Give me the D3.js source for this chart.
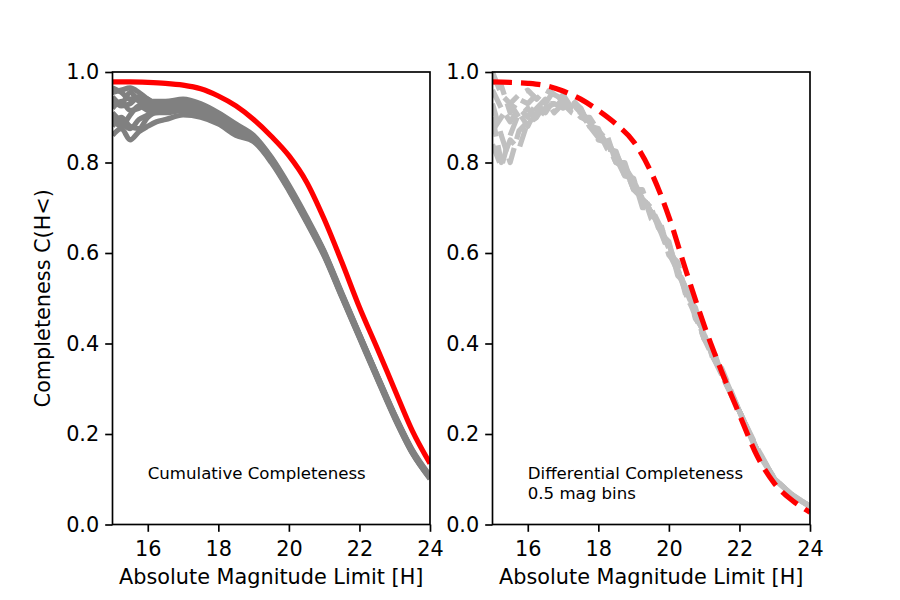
<!DOCTYPE html>
<html>
<head>
<meta charset="utf-8">
<script src="https://cdn.jsdelivr.net/npm/d3@7"></script>
<style>
  body { margin: 0; background: #fff; }
  svg { display: block; }
  text { font-family: "DejaVu Sans", sans-serif; }
</style>
</head>
<body>
<div id="chart"></div>
<script>
// ---- data ----
// left panel: cumulative completeness
const hCum = [15, 15.25, 15.5, 15.75, 16, 16.25, 16.5, 17, 17.5, 18, 18.5, 19, 19.5, 20, 20.5, 21, 21.5, 22, 22.5, 23, 23.5, 24];
const cumRun1 = [0.965, 0.955, 0.94, 0.945, 0.935, 0.935, 0.935, 0.94, 0.93, 0.91, 0.885, 0.86, 0.812, 0.75, 0.68, 0.604, 0.512, 0.421, 0.331, 0.243, 0.165, 0.108];
const cumRun2 = [0.955, 0.96, 0.965, 0.955, 0.94, 0.93, 0.93, 0.935, 0.925, 0.905, 0.88, 0.857, 0.81, 0.747, 0.677, 0.602, 0.51, 0.42, 0.33, 0.241, 0.163, 0.106];
const cumRun3 = [0.94, 0.925, 0.93, 0.945, 0.94, 0.925, 0.92, 0.93, 0.92, 0.9, 0.875, 0.855, 0.808, 0.745, 0.675, 0.6, 0.508, 0.418, 0.328, 0.24, 0.162, 0.105];
const cumRun4 = [0.92, 0.935, 0.915, 0.92, 0.93, 0.93, 0.925, 0.92, 0.915, 0.895, 0.87, 0.852, 0.806, 0.743, 0.673, 0.598, 0.506, 0.416, 0.326, 0.238, 0.16, 0.104];
const cumRun5 = [0.9, 0.88, 0.905, 0.925, 0.915, 0.91, 0.915, 0.92, 0.91, 0.89, 0.865, 0.85, 0.804, 0.741, 0.671, 0.596, 0.505, 0.415, 0.325, 0.237, 0.159, 0.103];
const cumRun6 = [0.88, 0.9, 0.88, 0.875, 0.9, 0.91, 0.91, 0.915, 0.905, 0.895, 0.862, 0.848, 0.803, 0.74, 0.67, 0.595, 0.504, 0.414, 0.324, 0.236, 0.158, 0.102];
const cumRun7 = [0.86, 0.875, 0.85, 0.868, 0.88, 0.89, 0.895, 0.905, 0.9, 0.885, 0.86, 0.846, 0.8, 0.738, 0.668, 0.593, 0.502, 0.412, 0.322, 0.234, 0.157, 0.101];
const cumRun8 = [0.91, 0.89, 0.875, 0.895, 0.905, 0.92, 0.925, 0.93, 0.92, 0.9, 0.875, 0.856, 0.809, 0.746, 0.676, 0.601, 0.509, 0.419, 0.329, 0.241, 0.163, 0.105];
const cumRun9 = [0.945, 0.93, 0.955, 0.935, 0.925, 0.92, 0.92, 0.925, 0.915, 0.895, 0.868, 0.853, 0.807, 0.744, 0.674, 0.599, 0.507, 0.417, 0.327, 0.239, 0.161, 0.104];
const cumRuns = [cumRun1, cumRun2, cumRun3, cumRun4, cumRun5, cumRun6, cumRun7, cumRun8, cumRun9];

const hModel = [15, 15.5, 16, 16.5, 17, 17.5, 18, 18.5, 19, 19.5, 20, 20.5, 21, 21.5, 22, 22.5, 23, 23.5, 24];
const cumModel = [0.978, 0.978, 0.977, 0.975, 0.971, 0.963, 0.947, 0.925, 0.895, 0.858, 0.815, 0.757, 0.675, 0.58, 0.48, 0.39, 0.298, 0.207, 0.135];

// right panel: differential completeness, 0.5 mag bins
const hDiff = [15, 15.25, 15.5, 15.75, 16, 16.25, 16.5, 16.75, 17, 17.25, 17.5, 17.75, 18, 18.25, 18.5, 18.75, 19, 19.25, 19.5, 19.75, 20, 20.25, 20.5, 20.75, 21, 21.25, 21.5, 22, 22.5, 23, 23.5, 24];
const diffRun1 = [1.0, 0.95, 0.93, 0.95, 0.96, 0.94, 0.96, 0.95, 0.94, 0.93, 0.92, 0.88, 0.87, 0.85, 0.81, 0.79, 0.76, 0.72, 0.7, 0.66, 0.62, 0.56, 0.52, 0.47, 0.42, 0.37, 0.34, 0.25, 0.17, 0.1, 0.066, 0.04];
const diffRun2 = [0.96, 0.92, 0.89, 0.92, 0.9, 0.93, 0.91, 0.94, 0.93, 0.91, 0.9, 0.89, 0.85, 0.845, 0.8, 0.79, 0.74, 0.735, 0.675, 0.66, 0.595, 0.575, 0.5, 0.47, 0.41, 0.385, 0.33, 0.25, 0.16, 0.1, 0.064, 0.039];
const diffRun3 = [0.93, 0.86, 0.8, 0.87, 0.89, 0.91, 0.92, 0.92, 0.94, 0.92, 0.91, 0.89, 0.87, 0.84, 0.8, 0.79, 0.74, 0.72, 0.69, 0.65, 0.6, 0.56, 0.51, 0.46, 0.41, 0.37, 0.33, 0.25, 0.165, 0.1, 0.065, 0.04];
const diffRun4 = [0.9, 0.8, 0.85, 0.83, 0.89, 0.9, 0.93, 0.93, 0.92, 0.93, 0.91, 0.88, 0.875, 0.83, 0.825, 0.77, 0.765, 0.7, 0.7, 0.645, 0.625, 0.55, 0.53, 0.455, 0.43, 0.365, 0.345, 0.25, 0.165, 0.1, 0.065, 0.04];
const diffRun5 = [0.87, 0.9, 0.93, 0.9, 0.92, 0.89, 0.92, 0.93, 0.95, 0.92, 0.9, 0.9, 0.87, 0.83, 0.82, 0.78, 0.76, 0.72, 0.69, 0.65, 0.62, 0.56, 0.52, 0.47, 0.415, 0.37, 0.335, 0.25, 0.165, 0.1, 0.065, 0.04];
const diffRun6 = [0.84, 0.79, 0.86, 0.91, 0.88, 0.92, 0.94, 0.91, 0.93, 0.94, 0.92, 0.88, 0.855, 0.86, 0.8, 0.8, 0.74, 0.74, 0.685, 0.67, 0.6, 0.58, 0.505, 0.48, 0.41, 0.39, 0.33, 0.25, 0.165, 0.1, 0.064, 0.04];
const diffRun7 = [0.98, 0.97, 0.91, 0.94, 0.93, 0.95, 0.93, 0.96, 0.93, 0.92, 0.91, 0.89, 0.86, 0.84, 0.81, 0.77, 0.75, 0.72, 0.69, 0.655, 0.61, 0.565, 0.515, 0.465, 0.42, 0.375, 0.335, 0.25, 0.165, 0.1, 0.065, 0.04];
const diffRuns = [diffRun1, diffRun2, diffRun3, diffRun4, diffRun5, diffRun6, diffRun7];

const diffModel = [0.978, 0.977, 0.975, 0.97, 0.958, 0.94, 0.915, 0.885, 0.846, 0.778, 0.68, 0.557, 0.44, 0.337, 0.243, 0.152, 0.09, 0.053, 0.027];

const xTicks = [16, 18, 20, 22, 24];
const yTicks = [0, 0.2, 0.4, 0.6, 0.8, 1.0];

// ---- layout ----
const W = 900, H = 600;
const panelTop = 72, pw = 317.5, ph = 452.5;
const lw = 5.2;

const svg = d3.select("#chart").append("svg")
  .attr("width", W)
  .attr("height", H);

function drawPanel(left, id, opts) {
  const g = svg.append("g").attr("transform", `translate(${left},${panelTop})`);
  const x = d3.scaleLinear().domain([15, 24]).range([0, pw]);
  const y = d3.scaleLinear().domain([0, 1]).range([ph, 0]);

  g.append("clipPath").attr("id", id)
    .append("rect").attr("width", pw).attr("height", ph);

  const plot = g.append("g").attr("clip-path", `url(#${id})`);

  // grey runs first, model on top
  const runLine = d3.line()
    .x((d, i) => x(opts.hRuns[i]))
    .y(d => y(d))
    .curve(opts.runCurve);
  plot.selectAll("path.run")
    .data(opts.runs)
    .join("path")
    .attr("class", "run")
    .attr("d", runLine)
    .attr("fill", "none")
    .attr("stroke", opts.runColor)
    .attr("stroke-width", lw)
    .attr("stroke-linejoin", "round")
    .attr("stroke-dasharray", opts.dash);

  const modelLine = d3.line()
    .x((d, i) => x(hModel[i]))
    .y(d => y(d))
    .curve(d3.curveMonotoneX);
  plot.append("path")
    .datum(opts.model)
    .attr("d", modelLine)
    .attr("fill", "none")
    .attr("stroke", "#ff0000")
    .attr("stroke-width", lw)
    .attr("stroke-linejoin", "round")
    .attr("stroke-dasharray", opts.dash);

  // axes
  const xAxis = g.append("g")
    .attr("transform", `translate(0,${ph})`)
    .call(d3.axisBottom(x).tickValues(xTicks).tickSize(7.3).tickPadding(9.7).tickFormat(d3.format("d")));
  const yAxis = g.append("g")
    .call(d3.axisLeft(y).tickValues(yTicks).tickSize(7.3).tickPadding(6).tickFormat(d3.format(".1f")));
  [xAxis, yAxis].forEach(a => {
    a.select(".domain").remove();
    a.selectAll(".tick line").attr("stroke", "#000").attr("stroke-width", 1.67);
    a.selectAll(".tick text")
      .attr("fill", "#000")
      .style("font-size", "20.8px")
      .style("font-family", "DejaVu Sans, sans-serif");
  });

  // frame
  g.append("rect")
    .attr("width", pw)
    .attr("height", ph)
    .attr("fill", "none")
    .attr("stroke", "#000")
    .attr("stroke-width", 1.67);

  g.append("text")
    .attr("x", pw / 2)
    .attr("y", ph + 59)
    .attr("text-anchor", "middle")
    .style("font-size", "20.8px")
    .text("Absolute Magnitude Limit [H]");

  if (opts.yLabel) {
    g.append("text")
      .attr("transform", `translate(-63,${ph / 2}) rotate(-90)`)
      .attr("text-anchor", "middle")
      .style("font-size", "20.8px")
      .text(opts.yLabel);
  }

  const note = g.append("text")
    .attr("x", x(16))
    .attr("y", y(0.1))
    .style("font-size", "16.6px");
  opts.note.forEach((t, i) => {
    note.append("tspan")
      .attr("x", x(16))
      .attr("dy", i === 0 ? 0 : 20)
      .text(t);
  });
}

drawPanel(112.5, "clipL", {
  hRuns: hCum,
  runs: cumRuns,
  runColor: "#808080",
  runCurve: d3.curveMonotoneX,
  model: cumModel,
  dash: null,
  yLabel: "Completeness C(H<)",
  note: ["Cumulative Completeness"]
});

drawPanel(492.5, "clipR", {
  hRuns: hDiff,
  runs: diffRuns,
  runColor: "#c0c0c0",
  runCurve: d3.curveLinear,
  model: diffModel,
  dash: "19.5,9",
  yLabel: null,
  note: ["Differential Completeness", "0.5 mag bins"]
});
</script>
</body>
</html>
